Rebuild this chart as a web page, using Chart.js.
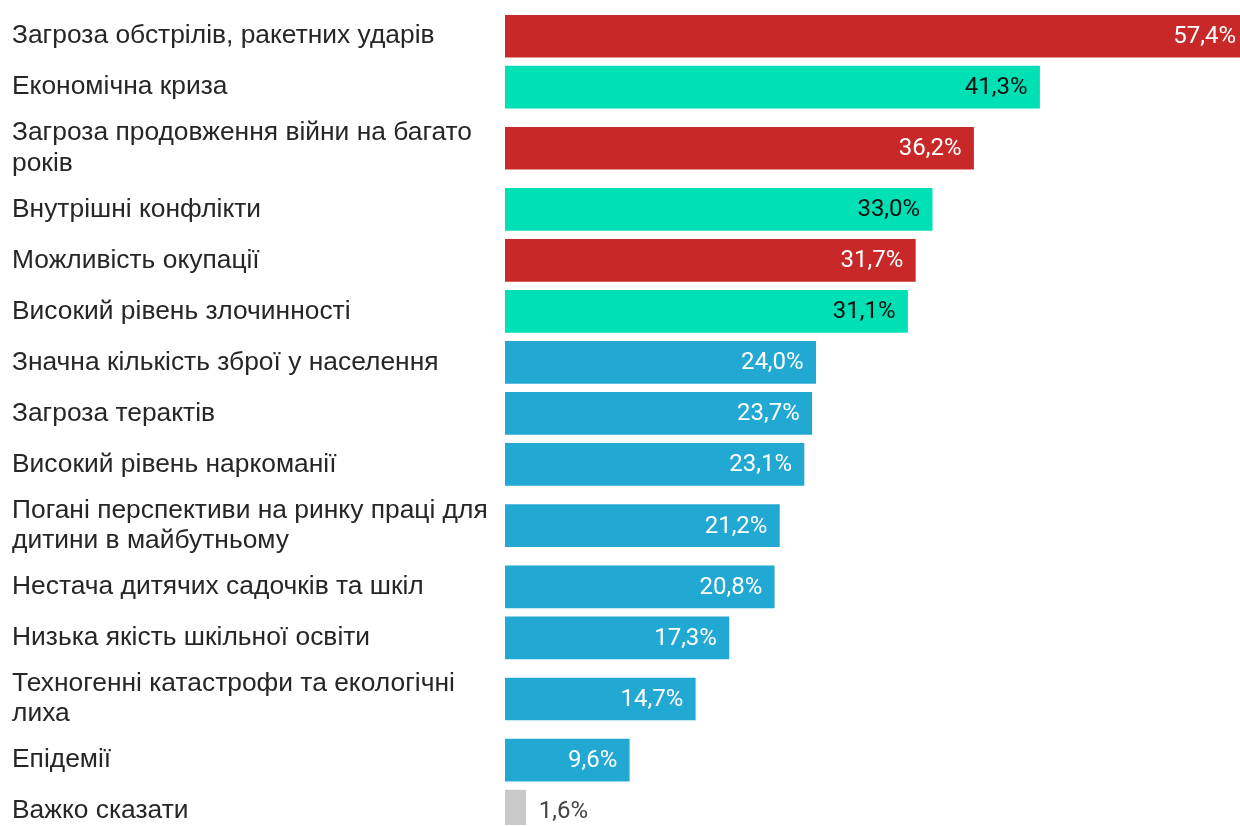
<!DOCTYPE html>
<html>
<head>
<meta charset="utf-8">
<script src="https://cdn.jsdelivr.net/npm/chart.js@4"></script>
<style>
html,body{margin:0;padding:0;background:#fff;overflow:hidden;width:1240px;height:826px;}
canvas{display:block;}
</style>
</head>
<body>
<canvas id="c" width="1250" height="840"></canvas>
<script>
// Categories (each entry = lines of the label)
const categories = [
  ["Загроза обстрілів, ракетних ударів"],
  ["Економічна криза"],
  ["Загроза продовження війни на багато", "років"],
  ["Внутрішні конфлікти"],
  ["Можливість окупації"],
  ["Високий рівень злочинності"],
  ["Значна кількість зброї у населення"],
  ["Загроза терактів"],
  ["Високий рівень наркоманії"],
  ["Погані перспективи на ринку праці для", "дитини в майбутньому"],
  ["Нестача дитячих садочків та шкіл"],
  ["Низька якість шкільної освіти"],
  ["Техногенні катастрофи та екологічні", "лиха"],
  ["Епідемії"],
  ["Важко сказати"]
];
const values = [57.4, 41.3, 36.2, 33.0, 31.7, 31.1, 24.0, 23.7, 23.1, 21.2, 20.8, 17.3, 14.7, 9.6, 1.6];
// group: r = war threats, g = social/economic, b = other, n = no answer
const groups = ["r","g","r","g","r","g","b","b","b","b","b","b","b","b","n"];

const groupColors = {r:"#C92828", g:"#00E0B5", b:"#22A9D3", n:"#C9C9C9"};
const groupText = {r:"#ffffff", g:"#111111", b:"#ffffff", n:"#444444"};

// Row positions derived from how many lines each label has
const extraPerLine = 0.40;
const rowH = categories.map(l => 1 + extraPerLine * (l.length - 1));
const positions = [];
categories.forEach((l, i) => {
  positions.push(i === 0 ? 0 : positions[i-1] + (rowH[i-1] + rowH[i]) / 2);
});

const data = values.map((v, i) => ({x: v, y: positions[i]}));

const valueLabels = {
  id: 'valueLabels',
  afterDatasetsDraw(chart) {
    const ctx = chart.ctx;
    const meta = chart.getDatasetMeta(0);
    ctx.save();
    ctx.font = '24px Roboto';
    ctx.textBaseline = 'middle';
    meta.data.forEach((bar, i) => {
      const txt = values[i].toFixed(1).replace('.', ',') + '%';
      const g = groups[i];
      ctx.fillStyle = groupText[g];
      if (g === 'n') {
        ctx.textAlign = 'left';
        ctx.fillText(txt, bar.x + 13, bar.y + 1);
      } else {
        ctx.textAlign = 'right';
        ctx.fillText(txt, bar.x - 12, bar.y + 1);
      }
    });
    ctx.restore();
  }
};

new Chart(document.getElementById('c'), {
  type: 'bar',
  data: {
    datasets: [{
      data: data,
      backgroundColor: groups.map(g => groupColors[g]),
      borderWidth: 0,
      barThickness: 42
    }]
  },
  options: {
    indexAxis: 'y',
    responsive: false,
    animation: false,
    layout: {padding: {left: 12, right: 2, top: 0, bottom: 0}},
    plugins: {legend: {display: false}, tooltip: {enabled: false}},
    scales: {
      x: {type: 'linear', min: 0, max: 57.4, display: false, offset: false},
      y: {
        type: 'linear',
        reverse: true,
        offset: false,
        min: -0.412,
        max: 15.47,
        grid: {display: false, offset: false},
        border: {display: false},
        afterBuildTicks: (scale) => { scale.ticks = positions.map(v => ({value: v})); },
        afterFit: (scale) => { scale.width = 493; },
        ticks: {
          autoSkip: false,
          crossAlign: 'far',
          padding: 0,
          color: '#262626',
          font: {family: 'Liberation Sans', size: 26.4, lineHeight: 1.14},
          callback: (value, index) => categories[index]
        }
      }
    }
  },
  plugins: [valueLabels]
});
</script>
</body>
</html>
